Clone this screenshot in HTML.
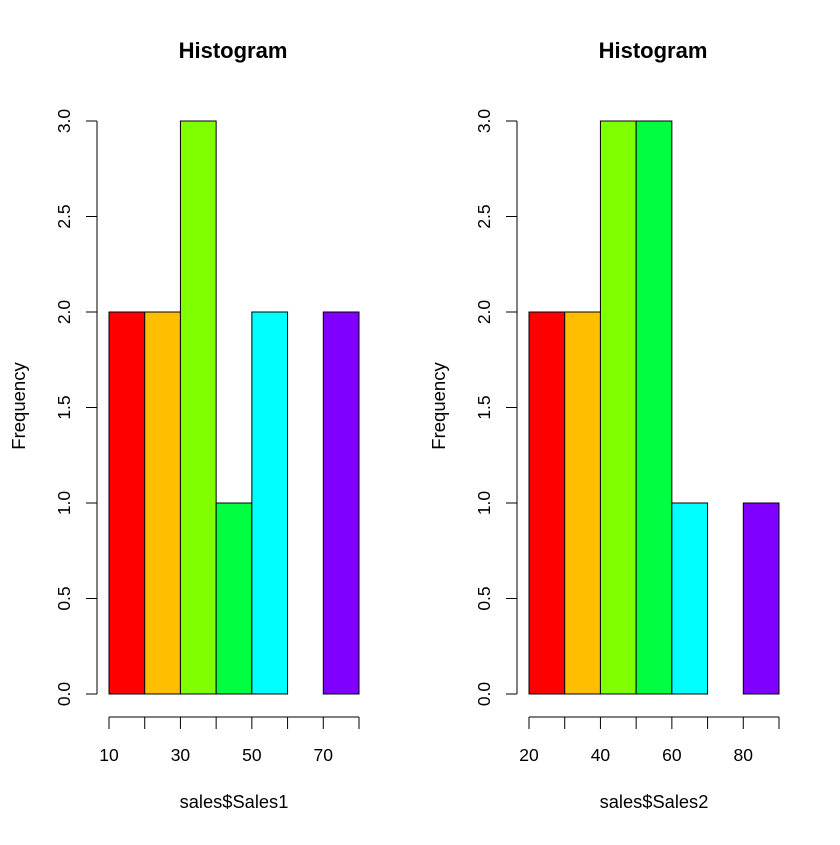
<!DOCTYPE html>
<html><head><meta charset="utf-8"><style>
body{margin:0;background:#fff}
text{font-family:"Liberation Sans",Arial,sans-serif;fill:#000}
</style></head><body>
<svg id="chart" width="840" height="840" xmlns="http://www.w3.org/2000/svg"></svg>
<script>
const breaks1 = [10,20,30,40,50,60,70,80];
const counts1 = [2,2,3,1,2,0,2];
const breaks2 = [20,30,40,50,60,70,80,90];
const counts2 = [2,2,3,3,1,0,1];
const xLabels1 = [10,30,50,70];
const xLabels2 = [20,40,60,80];
const yTicks = [0,0.5,1,1.5,2,2.5,3];
const colors = ["#FF0000","#FFBF00","#80FF00","#00FF40","#00FFFF","#0040FF","#8000FF"];
const svg = document.getElementById('chart');
const NS = "http://www.w3.org/2000/svg";
function mk(tag, attrs, parent){const e=document.createElementNS(NS,tag);for(const k in attrs)e.setAttribute(k,attrs[k]);(parent||svg).appendChild(e);return e;}
function panel(off, breaks, counts, labels, xlab, name){
  const x0=109+off, x1=359+off, y0=694, y3=121;
  const xmin=breaks[0], xmax=breaks[breaks.length-1];
  const xs=v=>x0+(v-xmin)/(xmax-xmin)*(x1-x0);
  const ys=v=>y0+(y3-y0)*v/3;
  const g=mk('g',{});
  
  
  counts.forEach((c,i)=>{
    if(c<=0) return;
    const r=mk('rect',{x:xs(breaks[i]),y:ys(c),width:xs(breaks[i+1])-xs(breaks[i]),height:ys(0)-ys(c),fill:colors[i],stroke:'#000','stroke-width':1},g);
    
    
  });
  mk('line',{x1:x0,x2:x1,y1:717,y2:717,stroke:'#000'},g);
  breaks.forEach(b=>mk('line',{x1:xs(b),x2:xs(b),y1:717,y2:729,stroke:'#000'},g));
  labels.forEach(l=>{const t=mk('text',{x:xs(l),y:761,'text-anchor':'middle','font-size':17.5},g);t.textContent=l;
    });
  const ax=97+off;
  mk('line',{x1:ax,x2:ax,y1:ys(0),y2:ys(3),stroke:'#000'},g);
  yTicks.forEach(v=>{mk('line',{x1:ax-11,x2:ax,y1:ys(v),y2:ys(v),stroke:'#000'},g);
    const t=mk('text',{x:70+off,y:ys(v),'text-anchor':'middle','font-size':17.5,transform:`rotate(-90 ${70+off} ${ys(v)})`},g);t.textContent=v.toFixed(1);
    });
  const tt=mk('text',{x:233+off,y:58,'text-anchor':'middle','font-size':22,'font-weight':'bold'},g);tt.textContent='Histogram';
  
  const xl=mk('text',{x:234+off,y:808,'text-anchor':'middle','font-size':18.3},g);xl.textContent=xlab;
  
  const yl=mk('text',{x:25+off,y:406,'text-anchor':'middle','font-size':18.5,transform:`rotate(-90 ${25+off} 406)`},g);yl.textContent='Frequency';
  
}
panel(0,breaks1,counts1,xLabels1,'sales$Sales1','left-histogram');
panel(420,breaks2,counts2,xLabels2,'sales$Sales2','right-histogram');
</script>
</body></html>
